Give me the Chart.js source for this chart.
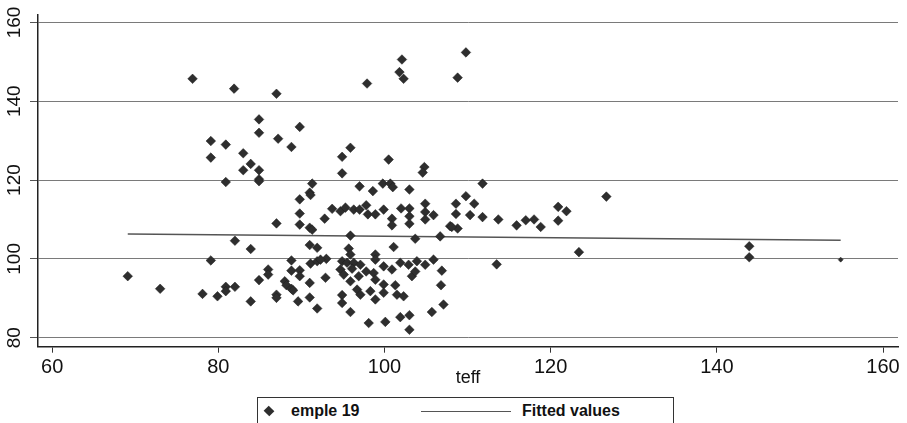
<!DOCTYPE html>
<html>
<head>
<meta charset="utf-8">
<title>emple 19 vs teff</title>
<script src="https://cdn.jsdelivr.net/npm/chart.js@4/dist/chart.umd.min.js"></script>
<style>
    html, body { margin: 0; padding: 0; background: #fff; }
    #wrap { position: relative; width: 907px; height: 423px; overflow: hidden; }
    #legend {
        position: absolute; left: 257px; top: 397px; width: 417px; height: 40px;
        border: 1px solid #333; box-sizing: border-box; background: #fff;
        font: bold 16px "Liberation Sans", Arial, sans-serif; color: #111;
    }
    #legend .mark {
        position: absolute; left: 7px; top: 9px; width: 8px; height: 8px;
        background: #2e2e2e; transform: rotate(45deg) scale(1, 0.9);
    }
    #legend .line { position: absolute; left: 163px; top: 13px; width: 90px; height: 0; border-top: 1.5px solid #555; }
    #legend .t1 { position: absolute; left: 33px; top: 4px; }
    #legend .t2 { position: absolute; left: 264px; top: 4px; }
</style>
</head>
<body>
<div id="wrap">
    <canvas id="chart" width="907" height="423"></canvas>
    <div id="legend">
        <span class="mark"></span><span class="t1">emple 19</span>
        <span class="line"></span><span class="t2">Fitted values</span>
    </div>
</div>
<script>
// scatter values (teff, emple 19)
const empleX = [
    76.9, 81.9, 87.0, 84.9, 89.8, 84.9, 79.1, 87.2, 80.9, 88.8,
    83.0, 79.1, 83.9, 83.0, 84.9, 84.9, 84.9, 80.9, 91.3, 91.0,
    91.1, 89.8, 89.8, 87.0, 89.8, 91.0, 91.3, 82.0, 83.9, 91.0,
    91.9, 79.1, 88.8, 91.1, 91.9, 69.1, 86.0, 86.0, 88.8, 89.8,
    89.8, 84.9, 88.0, 91.0, 88.2, 88.8, 89.0, 73.0, 80.9, 82.0,
    80.9, 78.1, 79.9, 87.0, 87.0, 83.9, 89.6, 91.0, 91.9,
    102.1, 109.8, 101.8, 102.3, 108.8, 97.9, 95.9, 94.9, 100.5, 104.8,
    104.6, 94.9, 97.0, 98.6, 99.8, 100.7, 101.0, 103.0, 111.8, 109.8,
    93.7, 94.7, 95.3, 96.3, 97.0, 97.8, 98.0, 98.9, 92.8, 95.9,
    95.7, 95.9, 93.0, 92.3, 94.9, 95.5, 96.3, 97.1, 97.8, 98.7,
    94.7, 95.1, 96.1, 96.9, 92.9, 95.9, 98.9, 96.7, 98.3, 97.1,
    94.9, 98.9, 94.9, 95.9, 98.1,
    99.9, 100.9, 100.9, 102.0, 103.0, 103.0, 103.0, 104.9, 104.9, 104.9,
    105.9, 108.6, 108.6, 107.9, 108.8, 103.7, 106.7, 101.1, 98.9, 98.9,
    99.9, 100.9, 101.9, 102.9, 103.9, 104.9, 105.9, 103.3, 103.7, 106.9,
    99.9, 101.3, 99.9, 101.5, 102.3, 106.8, 107.1, 105.7, 101.9, 103.0,
    100.1, 103.0,
    110.8, 110.3, 111.8, 113.7, 115.9, 117.0, 118.0, 118.8, 120.9, 121.9,
    120.9, 108.1, 123.4, 113.5, 126.7, 143.9, 143.9, 154.9
];
const empleY = [
    145.7, 143.2, 141.9, 135.4, 133.5, 132.0, 129.9, 130.5, 129.0, 128.4,
    126.8, 125.7, 124.1, 122.5, 122.5, 120.2, 119.7, 119.5, 119.1, 116.8,
    116.2, 115.1, 111.5, 109.0, 108.7, 107.9, 107.4, 104.6, 102.5, 103.5,
    102.8, 99.6, 99.6, 98.8, 99.4, 95.6, 97.3, 96.0, 97.0, 97.1,
    95.6, 94.6, 94.3, 93.9, 93.3, 92.4, 92.0, 92.4, 92.9, 92.9,
    91.8, 91.1, 90.5, 90.9, 90.1, 89.2, 89.2, 90.2, 87.4,
    150.6, 152.4, 147.4, 145.7, 146.0, 144.5, 128.2, 125.9, 125.2, 123.3,
    121.9, 121.7, 118.4, 117.2, 119.1, 119.1, 118.2, 117.6, 119.1, 115.9,
    112.7, 112.1, 113.0, 112.5, 112.5, 113.6, 111.3, 111.3, 110.2, 105.9,
    102.6, 101.1, 100.0, 99.8, 99.4, 99.0, 99.0, 98.5, 96.8, 96.4,
    97.3, 96.0, 97.5, 95.6, 95.2, 94.3, 94.7, 92.2, 91.8, 90.9,
    90.8, 89.7, 88.8, 86.5, 83.7,
    112.5, 110.2, 108.5, 112.8, 112.8, 110.8, 108.9, 114.0, 111.9, 110.0,
    111.1, 114.0, 111.4, 108.3, 107.7, 105.1, 105.7, 103.0, 101.1, 99.8,
    98.1, 97.3, 99.0, 98.5, 99.4, 98.5, 99.8, 95.6, 96.8, 97.0,
    93.5, 93.3, 91.4, 90.9, 90.5, 93.3, 88.4, 86.5, 85.2, 85.7,
    84.0, 82.0,
    114.0, 111.1, 110.6, 110.0, 108.5, 109.8, 110.0, 108.1, 113.2, 112.1,
    109.7, 108.1, 101.7, 98.6, 115.8, 103.2, 100.4, 99.8
];

// fitted values line end points
const fitX = [69.1, 154.9];
const fitY = [106.3, 104.7];

// axes
const xTicks = [60, 80, 100, 120, 140, 160];
const yTicks = [80, 100, 120, 140, 160];
const xRange = [58.3, 161.8];
const yRange = [77.7, 161.9];

const FONT = '"Liberation Sans", Arial, sans-serif';

// y labels are vertical in the original, draw them rotated + the axis title
const extraText = {
    id: 'extraText',
    afterDraw(chart) {
        const ctx = chart.ctx;
        const ys = chart.scales.y;
        const xs = chart.scales.x;
        ctx.save();
        ctx.fillStyle = '#111';
        ctx.font = '19px ' + FONT;
        ctx.textAlign = 'center';
        ctx.textBaseline = 'middle';
        ys.ticks.forEach(t => {
            const py = ys.getPixelForValue(t.value);
            ctx.save();
            ctx.translate(15, py);
            ctx.rotate(-Math.PI / 2);
            ctx.fillText(String(t.value), 0, 0);
            ctx.restore();
        });
        ctx.font = '18px ' + FONT;
        ctx.fillText('teff', (xs.left + xs.right) / 2, 378);
        ctx.restore();
    }
};

const ctx = document.getElementById('chart');
new Chart(ctx, {
    type: 'scatter',
    data: {
        datasets: [{
            label: 'emple 19',
            data: empleX.map((x, i) => ({ x: x, y: empleY[i] })),
            pointStyle: 'rectRot',
            // the far right mark is drawn half hidden in the original
            pointRadius: c => (c.raw && c.raw.x > 150 ? 2.5 : 4.8),
            backgroundColor: '#2e2e2e',
            borderColor: '#1c1c1c',
            borderWidth: 0.5,
            order: 1
        }, {
            label: 'Fitted values',
            type: 'line',
            data: fitX.map((x, i) => ({ x: x, y: fitY[i] })),
            borderColor: '#555',
            borderWidth: 1.5,
            pointRadius: 0,
            fill: false,
            order: 2
        }]
    },
    options: {
        responsive: false,
        animation: false,
        layout: { padding: { left: 0, top: 15, right: 9, bottom: 0 } },
        plugins: {
            legend: { display: false },
            tooltip: { enabled: false }
        },
        scales: {
            x: {
                type: 'linear',
                min: xRange[0],
                max: xRange[1],
                afterBuildTicks: s => { s.ticks = xTicks.map(v => ({ value: v })); },
                afterFit: s => { s.height = 76.3; },
                grid: { drawOnChartArea: false, drawTicks: true, tickLength: 6, tickColor: '#333', lineWidth: 1 },
                border: { display: true, color: '#222', width: 1.5 },
                ticks: { color: '#111', font: { family: FONT, size: 20 }, padding: 3, maxRotation: 0 }
            },
            y: {
                type: 'linear',
                min: yRange[0],
                max: yRange[1],
                afterBuildTicks: s => { s.ticks = yTicks.map(v => ({ value: v })); },
                afterFit: s => { s.width = 38; },
                grid: { color: '#7a7a7a', lineWidth: 1, tickLength: 8, tickColor: '#555' },
                border: { display: true, color: '#222', width: 1.5 },
                ticks: { display: false }
            }
        }
    },
    plugins: [extraText]
});
</script>
</body>
</html>
